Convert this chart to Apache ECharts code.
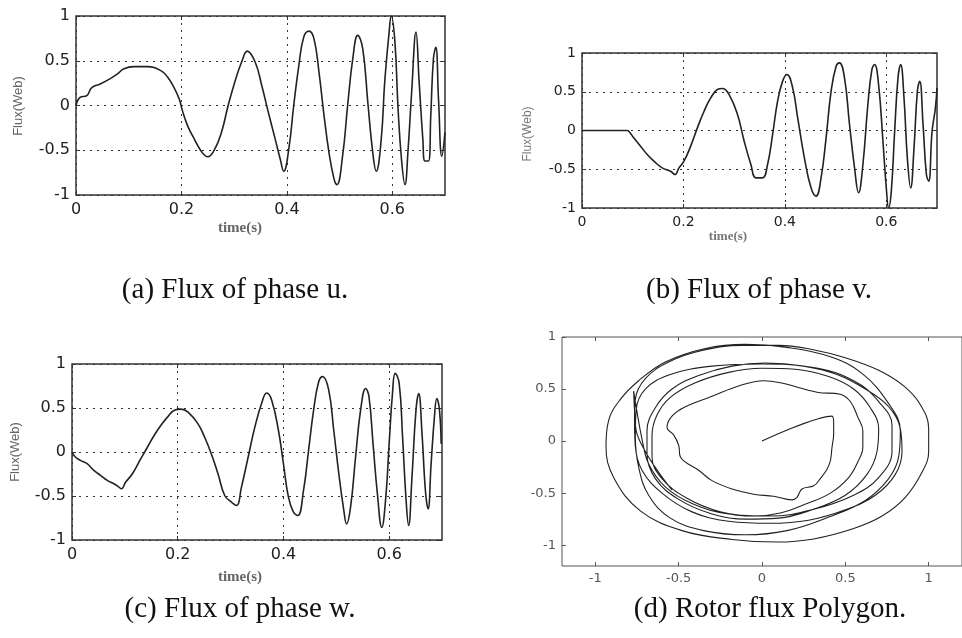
<!DOCTYPE html>
<html>
<head>
<meta charset="utf-8">
<script src="https://cdn.jsdelivr.net/npm/echarts@6/dist/echarts.min.js"></script>
<style>
html,body{margin:0;padding:0;background:#fff}
#main{width:962px;height:638px}
</style>
</head>
<body>
<div id="main"></div>
<script>
// tick values
var timeTicks = [0, 0.2, 0.4, 0.6];
var fluxTicks = [-1, -0.5, 0, 0.5, 1];
var polyTicks = [-1, -0.5, 0, 0.5, 1];

// [time(s), flux(Web)]
var fluxU = [
  [0,0],[0.0077,0.09],[0.0204,0.11],[0.030,0.2],[0.046,0.24],[0.065,0.3],[0.078,0.35],
  [0.091,0.41],[0.110,0.434],[0.135,0.434],[0.161,0.39],[0.174,0.315],[0.186,0.2],
  [0.196,0.07],[0.202,-0.06],[0.212,-0.23],[0.225,-0.38],[0.2375,-0.51],[0.250,-0.573],
  [0.263,-0.49],[0.276,-0.3],[0.2886,0],[0.301,0.258],[0.314,0.483],[0.325,0.607],
  [0.340,0.483],[0.3525,0.22],[0.365,-0.08],[0.378,-0.378],[0.3876,-0.603],[0.394,-0.734],
  [0.4036,-0.49],[0.413,0],[0.4227,0.446],[0.432,0.764],[0.4419,0.831],[0.4515,0.745],
  [0.461,0.371],[0.4706,-0.116],[0.480,-0.528],[0.4898,-0.828],[0.4949,-0.884],
  [0.5057,-0.566],[0.5153,0],[0.525,0.52],[0.5345,0.783],[0.544,0.633],[0.5536,0.034],
  [0.563,-0.528],[0.5696,-0.734],[0.579,-0.378],[0.5856,0.258],[0.594,0.82],[0.598,1.0],
  [0.605,0.708],[0.611,-0.04],[0.6175,-0.603],[0.624,-0.884],[0.630,-0.49],[0.6367,0.146],
  [0.645,0.82],[0.651,0.258],[0.658,-0.378],[0.662,-0.62],[0.6686,-0.62],[0.673,-0.116],
  [0.678,0.52],[0.6826,0.65],[0.6877,0.07],[0.694,-0.566],[0.7,-0.3]
];
var fluxV = [
  [0,0],[0.089,0],[0.0923,-0.009],[0.102,-0.095],[0.1154,-0.202],[0.1286,-0.31],
  [0.1418,-0.396],[0.158,-0.482],[0.1747,-0.525],[0.1833,-0.568],[0.1912,-0.482],
  [0.2011,-0.396],[0.2143,-0.202],[0.2275,0.034],[0.2407,0.249],[0.2538,0.42],[0.267,0.529],
  [0.2769,0.542],[0.2901,0.464],[0.3066,0.206],[0.3198,-0.138],[0.333,-0.439],[0.3429,-0.611],
  [0.356,-0.611],[0.3659,-0.439],[0.3758,-0.052],[0.3857,0.378],[0.3956,0.637],[0.4042,0.723],
  [0.4154,0.55],[0.4253,0.163],[0.4385,-0.353],[0.4516,-0.74],[0.4615,-0.847],[0.4714,-0.611],
  [0.4813,-0.095],[0.4912,0.508],[0.5011,0.83],[0.5077,0.873],[0.5176,0.679],[0.5275,0.077],
  [0.5374,-0.482],[0.5453,-0.804],[0.5539,-0.439],[0.5637,0.335],[0.5716,0.787],[0.5769,0.852],
  [0.5848,0.593],[0.5934,-0.138],[0.6,-0.74],[0.6046,-0.998],[0.6099,-0.783],[0.6165,-0.009],
  [0.6231,0.679],[0.6283,0.852],[0.6349,0.422],[0.6415,-0.353],[0.6481,-0.74],[0.6547,-0.224],
  [0.6613,0.507],[0.6659,0.636],[0.6725,0.077],[0.6791,-0.568],[0.6837,-0.654],[0.6903,-0.009],
  [0.6969,0.292],[0.7,0.55]
];
var fluxW = [
  [0,0],[0.0063,-0.057],[0.0159,-0.095],[0.0286,-0.133],[0.0413,-0.209],[0.054,-0.266],
  [0.0667,-0.323],[0.0794,-0.361],[0.0889,-0.399],[0.0933,-0.418],[0.1016,-0.342],
  [0.1143,-0.247],[0.1302,-0.076],[0.1429,0.057],[0.1556,0.19],[0.1683,0.304],[0.181,0.399],
  [0.1937,0.475],[0.2063,0.487],[0.219,0.456],[0.2381,0.323],[0.2508,0.171],[0.2635,-0.019],
  [0.2762,-0.247],[0.2889,-0.494],[0.3016,-0.57],[0.3111,-0.608],[0.3206,-0.399],[0.3333,-0.057],
  [0.346,0.285],[0.3587,0.551],[0.3683,0.67],[0.3778,0.589],[0.3905,0.247],[0.4,-0.133],
  [0.4095,-0.513],[0.419,-0.684],[0.4273,-0.722],[0.438,-0.437],[0.4476,0.019],[0.4571,0.475],
  [0.4667,0.798],[0.4743,0.856],[0.4857,0.703],[0.4952,0.247],[0.5048,-0.247],[0.5143,-0.665],
  [0.5194,-0.817],[0.527,-0.627],[0.5365,-0.057],[0.546,0.475],[0.5556,0.722],[0.5619,0.627],
  [0.5695,0.095],[0.5778,-0.475],[0.586,-0.856],[0.5937,-0.513],[0.6,0.095],[0.6063,0.665],
  [0.6114,0.894],[0.619,0.78],[0.6254,0.171],[0.6317,-0.513],[0.6368,-0.836],[0.6432,-0.285],
  [0.6508,0.475],[0.6559,0.665],[0.6622,0.209],[0.6686,-0.437],[0.6737,-0.646],[0.6794,-0.133],
  [0.6857,0.399],[0.6902,0.608],[0.6952,0.475],[0.6984,0.095]
];

// rotor flux trajectory [alpha, beta]
var rotorFlux = [
  [0,0],[0.42,0.24],[0.43,0.17],[0.43,0.07],[0.42,-0.06],[0.41,-0.19],[0.39,-0.27],[0.35,-0.36],
  [0.31,-0.43],[0.24,-0.46],[0.21,-0.54],[0.18,-0.565],[0.07,-0.53],[-0.05,-0.51],[-0.18,-0.46],
  [-0.3,-0.38],[-0.38,-0.28],[-0.49,-0.15],[-0.5,-0.04],[-0.53,0.06],[-0.57,0.13],[-0.54,0.24],
  [-0.46,0.33],[-0.3,0.43],[-0.14,0.53],[0.01,0.58],[0.11,0.56],[0.33,0.47],[0.47,0.45],
  [0.53,0.38],[0.575,0.23],[0.605,0.1],[0.605,-0.06],[0.575,-0.2],[0.52,-0.35],[0.41,-0.5],
  [0.27,-0.6],[0.11,-0.69],[-0.05,-0.72],[-0.25,-0.68],[-0.45,-0.55],[-0.6,-0.36],[-0.66,-0.15],
  [-0.66,0.05],[-0.63,0.25],[-0.55,0.42],[-0.4,0.56],[-0.2,0.66],[0,0.7],[0.2,0.69],[0.4,0.62],
  [0.55,0.5],[0.65,0.32],[0.70,0.12],[0.69,-0.1],[0.63,-0.32],[0.5,-0.52],[0.3,-0.66],[0.1,-0.74],
  [-0.1,-0.75],[-0.3,-0.7],[-0.5,-0.56],[-0.64,-0.36],[-0.69,-0.12],[-0.69,0.1],[-0.64,0.32],
  [-0.54,0.5],[-0.38,0.63],[-0.18,0.72],[0.02,0.75],[0.25,0.72],[0.45,0.64],[0.62,0.5],
  [0.76,0.33],[0.83,0.12],[0.84,-0.1],[0.8,-0.32],[0.68,-0.52],[0.5,-0.66],[0.28,-0.76],
  [0.05,-0.79],[-0.2,-0.77],[-0.42,-0.68],[-0.6,-0.5],[-0.72,-0.28],[-0.76,-0.05],[-0.765,0.2],
  [-0.76,0.4],[-0.7,0.6],[-0.56,0.76],[-0.36,0.87],[-0.12,0.92],[0.1,0.92],[0.3,0.88],[0.5,0.8],
  [0.7,0.68],[0.85,0.53],[0.95,0.35],[1.0,0.12],[1.0,-0.1],[0.96,-0.3],[0.86,-0.54],[0.72,-0.72],
  [0.55,-0.84],[0.31,-0.94],[0.09,-0.97],[-0.18,-0.945],[-0.48,-0.86],[-0.73,-0.67],[-0.89,-0.35],
  [-0.936,-0.05],[-0.92,0.2],[-0.85,0.4],[-0.74,0.58],[-0.58,0.76],[-0.34,0.89],[-0.1,0.93],
  [0.15,0.9],[0.41,0.81],[0.6,0.65],[0.76,0.36],[0.83,0.1],[0.82,-0.15],[0.76,-0.36],[0.62,-0.57],
  [0.4,-0.73],[0.15,-0.86],[-0.1,-0.9],[-0.35,-0.86],[-0.55,-0.74],[-0.68,-0.52],[-0.74,-0.25],
  [-0.76,0.05],[-0.755,0.3],[-0.7,0.5],[-0.55,0.64],[-0.3,0.72],[0,0.74],[0.3,0.71],[0.55,0.58],
  [0.7,0.38],[0.78,0.15],[0.78,-0.1],[0.7,-0.35],[0.55,-0.52],[0.3,-0.66],[0.05,-0.72],
  [-0.2,-0.7],[-0.42,-0.6],[-0.58,-0.44],[-0.68,-0.22],[-0.72,0.02],[-0.75,0.28],[-0.77,0.48],
  [-0.765,0.3],[-0.755,0.1],[-0.7,-0.1],[-0.62,-0.3],[-0.54,-0.47]
];

var captions = ['(a) Flux of phase u.', '(b) Flux of phase v.', '(c) Flux of phase w.', '(d) Rotor flux Polygon.'];

var myChart = echarts.init(document.getElementById('main'));

var dotted = {color: '#333', width: 1, type: [2, 5]};

function timeX(idx, fs) {
  return {
    type: 'value', gridIndex: idx, min: 0, max: 0.7,
    axisLine: {show: false, onZero: false},
    axisTick: {show: true, inside: true, length: 4, customValues: timeTicks, lineStyle: {color: '#333'}},
    axisLabel: {customValues: timeTicks, fontFamily: 'DejaVu Sans', fontSize: fs, color: '#222', margin: 7},
    splitLine: {show: true, lineStyle: dotted}
  };
}
function fluxY(idx, fs) {
  return {
    type: 'value', gridIndex: idx, min: -1, max: 1, interval: 0.5,
    axisLine: {show: false, onZero: false},
    axisTick: {show: true, inside: true, length: 4, lineStyle: {color: '#333'}},
    axisLabel: {fontFamily: 'DejaVu Sans', fontSize: fs, color: '#222', margin: 6},
    splitLine: {show: true, lineStyle: dotted}
  };
}
// tick-only mirror axes on the top and right edges
function topTicks(idx, lo, hi, vals, col) {
  return {
    type: 'value', gridIndex: idx, position: 'top', min: lo, max: hi,
    axisLine: {show: false, onZero: false},
    axisTick: {show: true, inside: true, length: 4, customValues: vals, lineStyle: {color: col}},
    axisLabel: {show: false}, splitLine: {show: false}
  };
}
function rightTicks(idx) {
  return {
    type: 'value', gridIndex: idx, position: 'right', min: -1, max: 1, interval: 0.5,
    axisLine: {show: false, onZero: false},
    axisTick: {show: true, inside: true, length: 4, lineStyle: {color: '#333'}},
    axisLabel: {show: false}, splitLine: {show: false}
  };
}
function curve(data, idx, w, sm) {
  return {
    type: 'line', data: data, xAxisIndex: idx, yAxisIndex: idx,
    showSymbol: false, smooth: sm, lineStyle: {color: '#222', width: w}
  };
}

var gridStyle = {show: true, borderColor: '#333', borderWidth: 1.5, backgroundColor: '#fff'};

option = {
  animation: false,
  backgroundColor: '#fff',
  grid: [
    Object.assign({left: 76, top: 16, width: 369, height: 179}, gridStyle),
    Object.assign({left: 582, top: 53, width: 355, height: 155}, gridStyle),
    Object.assign({left: 72, top: 364, width: 370, height: 176}, gridStyle),
    {show: true, left: 562, top: 337, width: 405, height: 229, borderColor: '#555', borderWidth: 1, backgroundColor: '#fff'}
  ],
  xAxis: [
    timeX(0, 16), timeX(1, 14), timeX(2, 16),
    {
      type: 'value', gridIndex: 3, min: -1.2, max: 1.2,
      axisLine: {show: false, onZero: false},
      axisTick: {show: true, inside: true, length: 4, customValues: polyTicks, lineStyle: {color: '#555'}},
      axisLabel: {customValues: polyTicks, fontFamily: 'DejaVu Sans', fontSize: 13, color: '#555', margin: 6},
      splitLine: {show: false}
    },
    topTicks(0, 0, 0.7, timeTicks, '#333'),
    topTicks(1, 0, 0.7, timeTicks, '#333'),
    topTicks(2, 0, 0.7, timeTicks, '#333'),
    topTicks(3, -1.2, 1.2, polyTicks, '#555')
  ],
  yAxis: [
    fluxY(0, 16), fluxY(1, 14), fluxY(2, 16),
    {
      type: 'value', gridIndex: 3, min: -1.2, max: 1,
      axisLine: {show: false, onZero: false},
      axisTick: {show: true, inside: true, length: 4, customValues: fluxTicks, lineStyle: {color: '#555'}},
      axisLabel: {customValues: fluxTicks, fontFamily: 'DejaVu Sans', fontSize: 13, color: '#555', margin: 6},
      splitLine: {show: false}
    },
    rightTicks(0), rightTicks(1), rightTicks(2)
  ],
  series: [
    curve(fluxU, 0, 1.6, 0.45),
    curve(fluxV, 1, 1.6, 0.45),
    curve(fluxW, 2, 1.6, 0.45),
    curve(rotorFlux, 3, 1.1, 0.4)
  ],
  graphic: [
    {type: 'text', x: 18, y: 106, rotation: Math.PI / 2, style: {text: 'Flux(Web)', font: '13px "Liberation Sans"', fill: '#666', align: 'center', verticalAlign: 'middle'}},
    {type: 'text', x: 240, y: 228, style: {text: 'time(s)', font: 'bold 15px "Liberation Serif"', fill: '#666', align: 'center', verticalAlign: 'middle'}},
    {type: 'text', x: 528, y: 134, rotation: Math.PI / 2, style: {text: 'Flux(Web)', font: '12px "Liberation Sans"', fill: '#777', align: 'center', verticalAlign: 'middle'}},
    {type: 'text', x: 728, y: 237, style: {text: 'time(s)', font: 'bold 13px "Liberation Serif"', fill: '#777', align: 'center', verticalAlign: 'middle'}},
    {type: 'text', x: 15, y: 452, rotation: Math.PI / 2, style: {text: 'Flux(Web)', font: '13px "Liberation Sans"', fill: '#666', align: 'center', verticalAlign: 'middle'}},
    {type: 'text', x: 240, y: 577, style: {text: 'time(s)', font: 'bold 15px "Liberation Serif"', fill: '#666', align: 'center', verticalAlign: 'middle'}},
    {type: 'text', x: 235, y: 290, style: {text: captions[0], font: '29px "Liberation Serif"', fill: '#111', align: 'center', verticalAlign: 'middle'}},
    {type: 'text', x: 759, y: 290, style: {text: captions[1], font: '29px "Liberation Serif"', fill: '#111', align: 'center', verticalAlign: 'middle'}},
    {type: 'text', x: 240, y: 609, style: {text: captions[2], font: '29px "Liberation Serif"', fill: '#111', align: 'center', verticalAlign: 'middle'}},
    {type: 'text', x: 770, y: 609, style: {text: captions[3], font: '29px "Liberation Serif"', fill: '#111', align: 'center', verticalAlign: 'middle'}}
  ]
};
myChart.setOption(option);
</script>
</body>
</html>
